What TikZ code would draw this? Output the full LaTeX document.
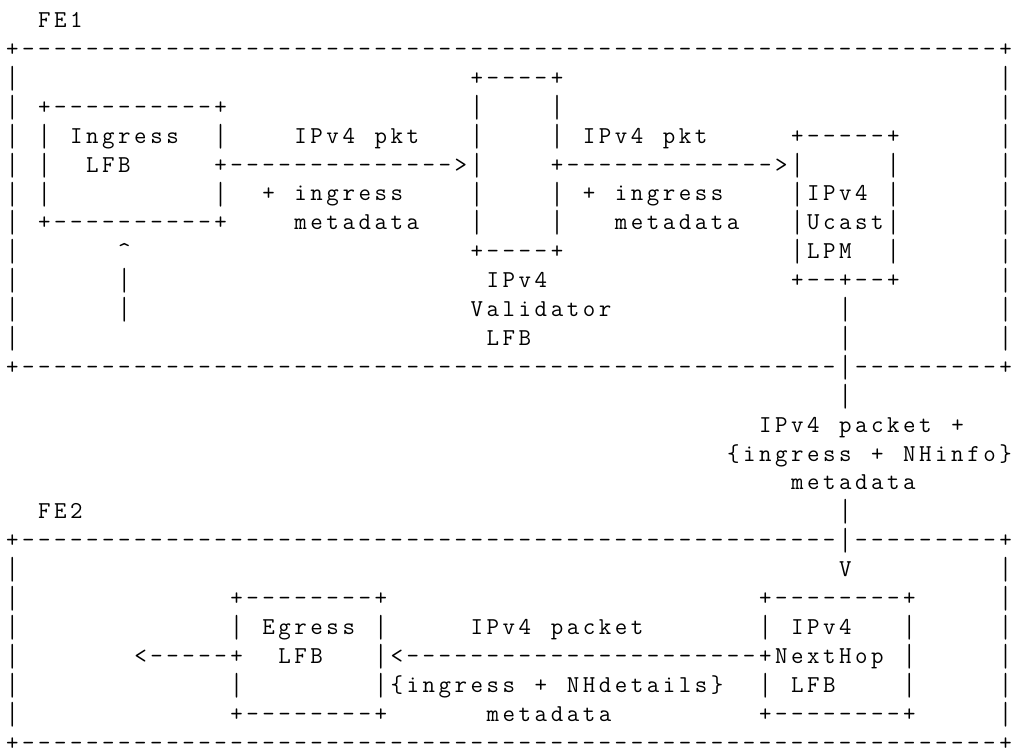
\documentclass[tikz,border=0pt]{standalone}
\usepackage{tikz}
\usepackage{graphicx}
\newlength\cw
\setlength\cw{0.3204cm}
\def\barchar{|}
\makeatletter
\newcommand\cells[1]{\expandafter\@tfor\expandafter\ch\expandafter:\expandafter=#1\do{%
    \ifx\ch\barchar\makebox[\cw]{\raisebox{-0.13em}{\scalebox{1}[1.32]{|}}}\else\makebox[\cw]{\ch}\fi}}
\makeatother
\tikzset{
    ascii/.style={anchor=base west,inner sep=0pt,font=\ttfamily\fontsize{13.8}{16}\selectfont}
}

\begin{document}
\begin{tikzpicture}[x=0.02cm,y=-0.02cm]
\useasboundingbox (0,0) rectangle (1011,755);
% text pieces: column/row/text
\foreach \col/\row/\txt in {2/0/FE1,
    0/1/+, 62/1/+,
    0/2/|, 29/2/+, 34/2/+, 62/2/|,
    0/3/|, 2/3/+, 13/3/+, 29/3/|, 34/3/|, 62/3/|,
    0/4/|, 2/4/|, 4/4/Ingress, 13/4/|, 18/4/IPv4~pkt, 29/4/|, 34/4/|, 36/4/IPv4~pkt, 49/4/+, 55/4/+, 62/4/|,
    0/5/|, 2/5/|, 5/5/LFB, 13/5/+, 28/5/>|, 34/5/+, 48/5/>|, 55/5/|, 62/5/|,
    0/6/|, 2/6/|, 13/6/|, 16/6/+~ingress, 29/6/|, 34/6/|, 36/6/+~ingress, 49/6/|IPv4, 55/6/|, 62/6/|,
    0/7/|, 2/7/+, 13/7/+, 18/7/metadata, 29/7/|, 34/7/|, 38/7/metadata, 49/7/|Ucast|, 62/7/|,
    0/8/|, 7/8/\textasciicircum, 29/8/+, 34/8/+, 49/8/|LPM, 55/8/|, 62/8/|,
    0/9/|, 7/9/|, 30/9/IPv4, 49/9/+, 52/9/+, 55/9/+, 62/9/|,
    0/10/|, 7/10/|, 29/10/Validator, 52/10/|, 62/10/|,
    0/11/|, 30/11/LFB, 52/11/|, 62/11/|,
    0/12/+, 52/12/|, 62/12/+,
    52/13/|,
    47/14/IPv4~packet~+,
    45/15/\{ingress~+~NHinfo\},
    49/16/metadata,
    2/17/FE2, 52/17/|,
    0/18/+, 52/18/|, 62/18/+,
    0/19/|, 52/19/V, 62/19/|,
    0/20/|, 14/20/+, 23/20/+, 47/20/+, 56/20/+, 62/20/|,
    0/21/|, 14/21/|, 16/21/Egress, 23/21/|, 29/21/IPv4~packet, 47/21/|, 49/21/IPv4, 56/21/|, 62/21/|,
    0/22/|, 8/22/<, 14/22/+, 17/22/LFB, 23/22/|<, 47/22/+NextHop, 56/22/|, 62/22/|,
    0/23/|, 14/23/|, 23/23/|\{ingress~+~NHdetails\}, 47/23/|, 49/23/LFB, 56/23/|, 62/23/|,
    0/24/|, 14/24/+, 23/24/+, 30/24/metadata, 47/24/+, 56/24/+, 62/24/|,
    0/25/+, 62/25/+}{
    \node[ascii] (t\row-\col) at ({3.99+16.02*\col},{27.5+28.9*\row}) {\cells{\txt}};
}
% runs of dashes: column/row/count
\foreach \col/\row/\len in {1/1/61, 30/2/4, 3/3/10, 50/4/5, 14/5/14, 35/5/13, 3/7/10, 30/8/4,
    50/9/2, 53/9/2, 1/12/51, 53/12/9, 1/18/51, 53/18/9, 15/20/8, 48/20/8,
    9/22/5, 25/22/22, 15/24/8, 48/24/8, 1/25/61}{
    \node[ascii] (d\row-\col) at ({3.99+16.02*\col},{27.5+28.9*\row}) {\foreach \k in {1,...,\len}{\makebox[\cw]{-}}};
}
\end{tikzpicture}
\end{document}
